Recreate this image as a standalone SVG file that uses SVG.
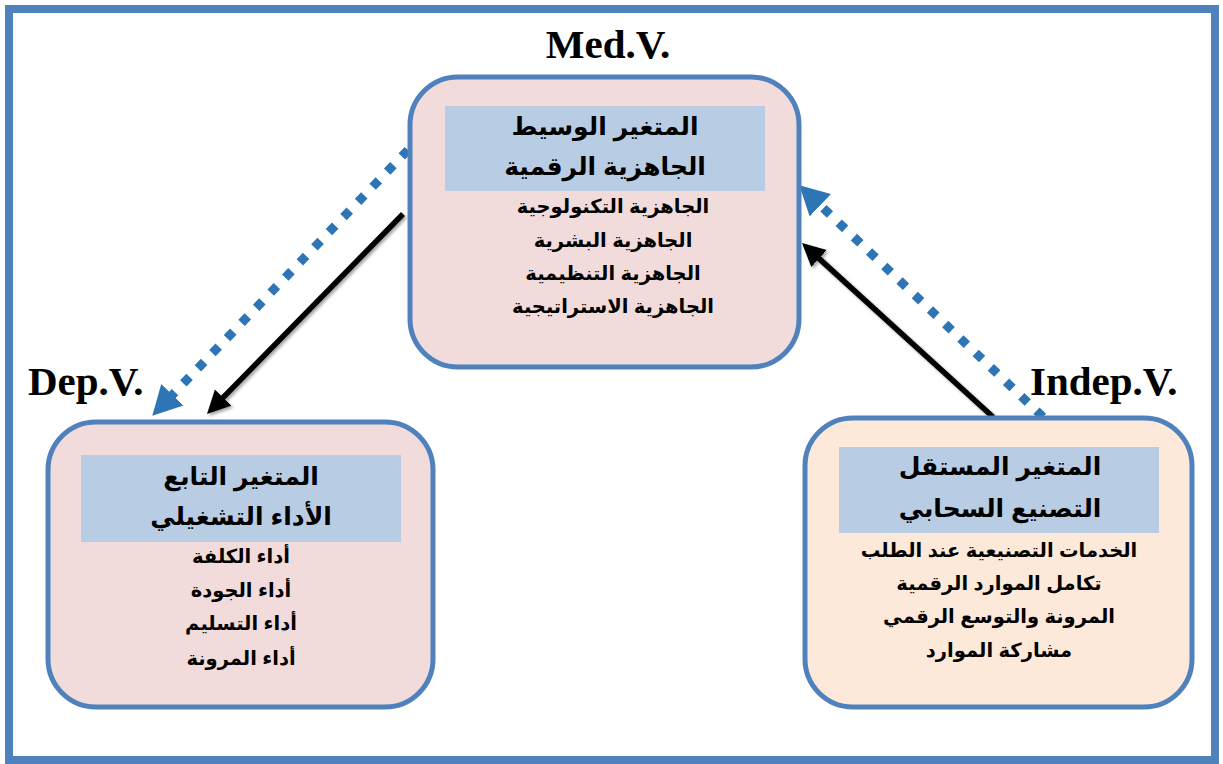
<svg xmlns="http://www.w3.org/2000/svg" width="1223" height="764" viewBox="0 0 1223 764">
<style>
.frame{fill:#fff;stroke:#4F81BD;stroke-width:8}
.box{stroke:#4F81BD;stroke-width:5}
.pink{fill:#F2DCDB}
.peach{fill:#FDE9D9}
.hdr{fill:#B8CCE4}
.ar{font-family:"Liberation Sans","DejaVu Sans",sans-serif;font-weight:bold;text-anchor:middle;fill:#000}
.h{font-size:25px}
.i{font-size:19.5px}
.lbl{font-family:"Liberation Serif",serif;font-weight:bold;font-size:41px;fill:#000}
.blk{stroke:#000;stroke-width:5.5;fill:none;filter:url(#sh)}
.dot{stroke:#2E75B6;stroke-width:9;fill:none;stroke-dasharray:9 12}
</style>
<defs>
<filter id="sh" x="-20%" y="-20%" width="140%" height="140%">
<feDropShadow dx="2" dy="2" stdDeviation="1.5" flood-color="#000" flood-opacity="0.35"/>
</filter>
<marker id="ah" markerUnits="userSpaceOnUse" markerWidth="24" markerHeight="24" refX="11" refY="11.5" orient="auto">
<path d="M0,0 L23,11.5 L0,23 z" fill="#000"/>
</marker>
<marker id="bh" markerUnits="userSpaceOnUse" markerWidth="30" markerHeight="32" refX="14" refY="15.5" orient="auto">
<path d="M0,0 L29,15.5 L0,31 z" fill="#2E75B6"/>
</marker>
</defs>
<rect class="frame" x="9" y="9" width="1206" height="751"/>
<g id="connectors">
<line class="dot" x1="408" y1="150" x2="162.7" y2="404.9" marker-end="url(#bh)"/>
<line class="blk" x1="403" y1="214" x2="215.4" y2="405.4" marker-end="url(#ah)"/>
<line class="dot" x1="1043" y1="417" x2="810.2" y2="195.6" marker-end="url(#bh)"/>
<line class="blk" x1="993" y1="417" x2="810.9" y2="251.1" marker-end="url(#ah)"/>
<line class="blk" x1="803" y1="566" x2="452" y2="566" marker-end="url(#ah)"/>
</g>
<g id="med">
<rect class="box pink" x="410" y="77" width="389" height="290" rx="48"/>
<rect class="hdr" x="445" y="106" width="320" height="85"/>
<text class="ar h" x="605" y="135">المتغير الوسيط</text>
<text class="ar h" x="605" y="175">الجاهزية الرقمية</text>
<text class="ar i" x="613" y="213">الجاهزية التكنولوجية</text>
<text class="ar i" x="613" y="247">الجاهزية البشرية</text>
<text class="ar i" x="613" y="280">الجاهزية التنظيمية</text>
<text class="ar i" x="613" y="313">الجاهزية الاستراتيجية</text>
<text class="lbl" x="608" y="58" text-anchor="middle">Med.V.</text>
</g>
<g id="dep">
<rect class="box pink" x="48" y="422" width="385" height="285" rx="48"/>
<rect class="hdr" x="81" y="455" width="320" height="87"/>
<text class="ar h" x="241" y="485">المتغير التابع</text>
<text class="ar h" x="241" y="525">الأداء التشغيلي</text>
<text class="ar i" x="241" y="563">أداء الكلفة</text>
<text class="ar i" x="241" y="597">أداء الجودة</text>
<text class="ar i" x="241" y="630">أداء التسليم</text>
<text class="ar i" x="241" y="665">أداء المرونة</text>
<text class="lbl" x="28" y="395">Dep.V.</text>
</g>
<g id="indep">
<rect class="box peach" x="805" y="418" width="387" height="289" rx="48"/>
<rect class="hdr" x="839" y="447" width="320" height="86"/>
<text class="ar h" x="1000" y="475">المتغير المستقل</text>
<text class="ar h" x="1000" y="517">التصنيع السحابي</text>
<text class="ar i" x="999" y="557">الخدمات التصنيعية عند الطلب</text>
<text class="ar i" x="999" y="590">تكامل الموارد الرقمية</text>
<text class="ar i" x="999" y="623">المرونة والتوسع الرقمي</text>
<text class="ar i" x="999" y="657">مشاركة الموارد</text>
<text class="lbl" x="1030" y="395">Indep.V.</text>
</g>
</svg>
